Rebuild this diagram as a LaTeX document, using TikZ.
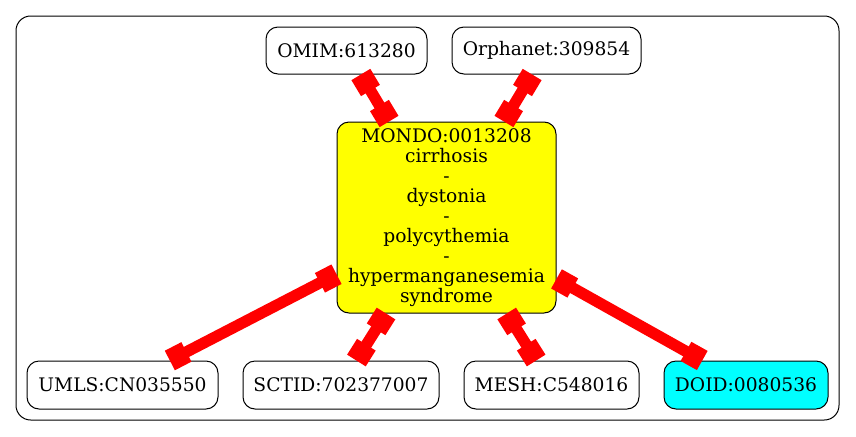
\documentclass[tikz,border=0pt]{standalone}
\usepackage{fontspec}
\setmainfont{DejaVu Serif}
\usetikzlibrary{arrows.meta}
\definecolor{gvyellow}{RGB}{255,255,0}
\definecolor{gvcyan}{RGB}{0,255,255}
\definecolor{gvred}{RGB}{255,0,0}
\begin{document}
\begin{tikzpicture}[x=0.75pt,y=-0.75pt,
  box/.style={draw, rounded corners=9pt, line width=0.75pt, inner sep=0pt,
    font=\fontsize{14}{15}\selectfont, align=center},
  link/.style={draw=gvred, line width=8.5pt,
    {Square[length=14pt,width=16.5pt]}-{Square[length=14pt,width=16.5pt]}}]
\useasboundingbox (0,0) rectangle (856,436);
\draw[line width=0.75pt, rounded corners=11pt] (16,16) rectangle (839,420);
\node[box, minimum width=120.75pt, minimum height=35.25pt] (omim) at (346.5,50.5) {OMIM:613280};
\node[box, minimum width=141.75pt, minimum height=35.25pt] (orpha) at (546.5,50.5) {Orphanet:309854};
\node[box, fill=gvyellow, minimum width=164.25pt, minimum height=143.25pt] (mondo) at (446.5,217.5)
  {MONDO:0013208\\cirrhosis\\-\\dystonia\\-\\polycythemia\\-\\hypermanganesemia\\syndrome};
\node[box, minimum width=143.25pt, minimum height=36pt] (umls) at (122.5,385) {UMLS:CN035550};
\node[box, minimum width=147pt, minimum height=36pt] (sctid) at (341,385) {SCTID:702377007};
\node[box, minimum width=131.25pt, minimum height=36pt] (mesh) at (551.5,385) {MESH:C548016};
\node[box, fill=gvcyan, minimum width=123pt, minimum height=36pt] (doid) at (746,385) {DOID:0080536};
\draw[link] (omim) -- (mondo);
\draw[link] (orpha) -- (mondo);
\draw[link] (mondo) -- (umls);
\draw[link] (mondo) -- (sctid);
\draw[link] (mondo) -- (mesh);
\draw[link] (mondo) -- (doid);
\end{tikzpicture}
\end{document}
